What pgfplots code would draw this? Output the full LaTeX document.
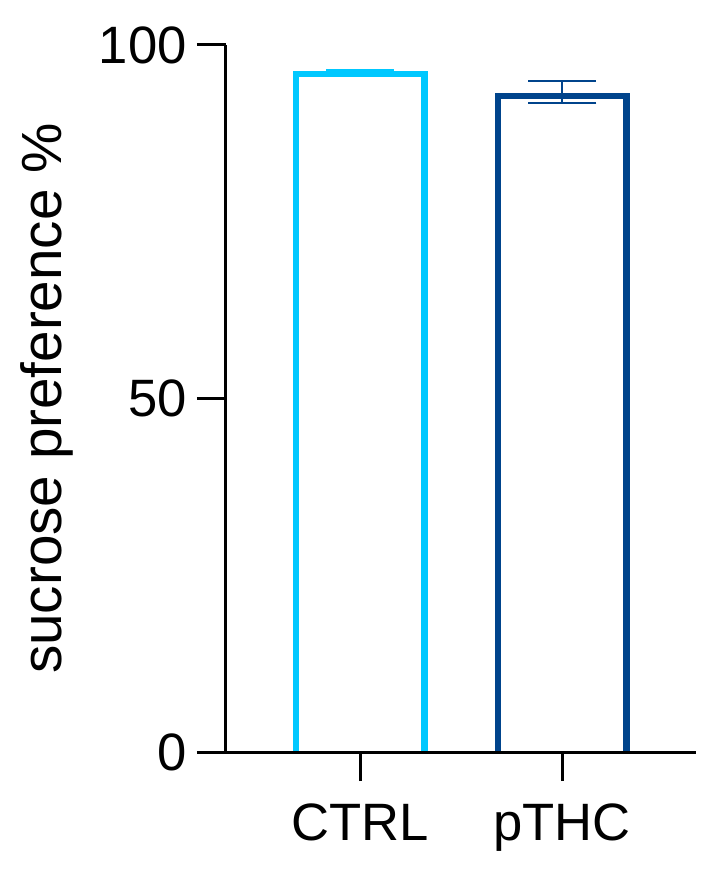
\documentclass[border=0pt]{standalone}
\usepackage{fontspec}
\setmainfont{Liberation Sans}
\usepackage{pgfplots}
\pgfplotsset{compat=1.18}
\definecolor{ctrlblue}{RGB}{0,200,255}
\definecolor{thcblue}{RGB}{0,68,140}
\begin{document}
\begin{tikzpicture}
\begin{axis}[
  at={(0,0)}, anchor=south west,
  scale only axis, width=235pt, height=353.5pt,
  xmin=0.335, xmax=2.662, ymin=0, ymax=100,
  axis lines=left,
  axis line style={line width=1.5pt, -, black},
  xtick={1,2}, xticklabels={CTRL,pTHC},
  ytick={0,50,100}, yticklabels={0,50,100},
  minor tick num=0,
  tick style={line width=1.5pt, black},
  major tick length=14.5pt,
  tick align=outside,
  /pgf/number format/assume math mode=true,
  ticklabel style={font=\fontsize{26.3}{30}\selectfont},
  xticklabel style={inner sep=0pt, yshift=-11pt},
  yticklabel style={inner sep=0pt, xshift=-5pt},
  ylabel={sucrose preference \%},
  ylabel style={font=\fontsize{28.3}{33}\selectfont, at={(axis description cs:-0.38,0.5)}, anchor=center},
  axis on top, clip=true,
]
% bars (white fill)
\addplot[ybar, bar width=0.638, bar shift=0pt, draw=none, fill=white] coordinates {(1,95.9) (2,92.8)};
% bar outlines (no bottom edge, as in the reference)
\addplot[ctrlblue, line width=3.25pt, line join=miter, mark=none]
  coordinates {(0.681,0) (0.681,95.9) (1.319,95.9) (1.319,0)};
\addplot[thcblue, line width=3.25pt, line join=miter, mark=none]
  coordinates {(1.681,0) (1.681,92.8) (2.319,92.8) (2.319,0)};
% error bars
\addplot[draw=none, mark=none,
  error bars/.cd, y dir=both, y explicit,
  error bar style={line width=1pt, ctrlblue},
  error mark options={rotate=90, mark size=17pt, line width=1pt, ctrlblue}]
  coordinates {(1,95.9) += (0,0.55) -= (0,0.1)};
\addplot[draw=none, mark=none,
  error bars/.cd, y dir=both, y explicit,
  error bar style={line width=1pt, thcblue},
  error mark options={rotate=90, mark size=17pt, line width=1pt, thcblue}]
  coordinates {(2,92.8) += (0,2.1) -= (0,0.95)};
\end{axis}
\pgfresetboundingbox
\path[use as bounding box] (-113pt,-60.5pt) rectangle (243pt,376pt);
\end{tikzpicture}
\end{document}
